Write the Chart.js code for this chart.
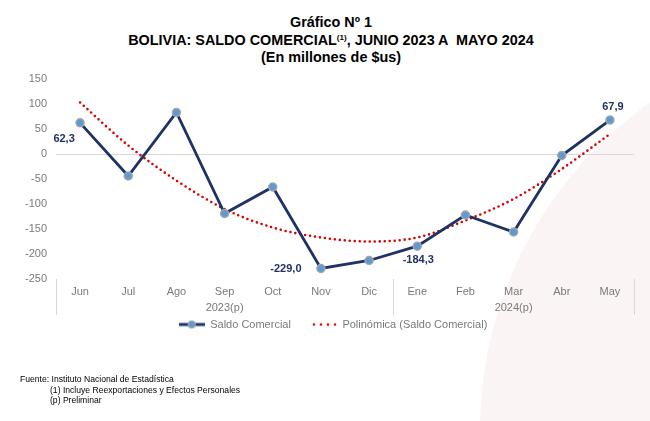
<!DOCTYPE html>
<html lang="es">
<head>
<meta charset="utf-8">
<title>Bolivia: Saldo Comercial</title>
<script src="https://cdn.jsdelivr.net/npm/chart.js@4.4.1/dist/chart.umd.min.js"></script>
<style>
    html, body { margin: 0; padding: 0; background: #fff; }
    body {
        width: 650px; height: 421px; position: relative; overflow: hidden;
        font-family: "Liberation Sans", Arial, sans-serif;
    }
    .fondo {
        position: absolute; left: 480px; top: 30px; width: 800px; height: 800px;
        border-radius: 50%; background: #faf5f4;
    }
    .titulo {
        position: absolute; left: 6px; top: 14px; width: 650px; text-align: center;
        font-weight: bold; font-size: 14.4px; line-height: 17.5px; color: #000; white-space: pre;
    }
    .titulo sup { font-size: 8px; line-height: 0; vertical-align: 5px; }
    #contenedor { position: absolute; left: 0; top: 0; width: 650px; height: 421px; }
    .notas {
        position: absolute; left: 20px; top: 374px; color: #000;
        font-family: "Liberation Sans Narrow", "Arial Narrow", "Liberation Sans", sans-serif;
        font-size: 8.6px; line-height: 10.5px;
    }
    .notas .sangria { padding-left: 30px; }
</style>
</head>
<body>
<div class="fondo"></div>
<div class="titulo">Gráfico Nº 1
BOLIVIA: SALDO COMERCIAL<sup>(1)</sup>, JUNIO 2023 A  MAYO 2024
(En millones de $us)</div>
<div id="contenedor"><canvas id="grafico"></canvas></div>
<div class="notas">
    <div>Fuente: Instituto Nacional de Estadística</div>
    <div class="sangria">(1) Incluye Reexportaciones y Efectos Personales</div>
    <div class="sangria">(p) Preliminar</div>
</div>
<script>
// Datos
const meses = ['Jun', 'Jul', 'Ago', 'Sep', 'Oct', 'Nov', 'Dic', 'Ene', 'Feb', 'Mar', 'Abr', 'May'];
const grupos = ['2023(p)', '2024(p)'];
const mesesPorGrupo = [7, 5];
const saldoComercial = [62.3, -44, 83, -119, -66, -229.0, -213, -184.3, -122, -156, -3, 67.9];
const tendencia = [103, 17, -53, -110, -147, -167, -175, -167, -133, -90, -30, 40];
const etiquetados = [0, 5, 7, 11];
const ejeY = [-250, 150, 50];

const GRIS = '#7a7a7a';
const AZUL = '#1f3264';
const ROJO = '#d90000';

Chart.defaults.font.family = '"Liberation Sans", Arial, sans-serif';
Chart.defaults.font.size = 11;

// Símbolos de la leyenda
function simboloLinea() {
    const c = document.createElement('canvas');
    c.width = 26; c.height = 10;
    const ctx = c.getContext('2d');
    ctx.strokeStyle = AZUL;
    ctx.lineWidth = 3;
    ctx.beginPath(); ctx.moveTo(0, 5); ctx.lineTo(26, 5); ctx.stroke();
    ctx.fillStyle = '#5b9bd5';
    ctx.strokeStyle = '#a5a5a5';
    ctx.lineWidth = 1.2;
    ctx.beginPath(); ctx.arc(13, 5, 3.5, 0, Math.PI * 2); ctx.fill(); ctx.stroke();
    return c;
}

function simboloPuntos() {
    const c = document.createElement('canvas');
    c.width = 26; c.height = 10;
    const ctx = c.getContext('2d');
    ctx.fillStyle = ROJO;
    [3, 10, 17, 24].forEach(x => {
        ctx.beginPath(); ctx.arc(x, 5, 1.3, 0, Math.PI * 2); ctx.fill();
    });
    return c;
}
const simbolos = [simboloLinea(), simboloPuntos()];

// Etiquetas de datos
const etiquetasDatos = {
    id: 'etiquetasDatos',
    afterDatasetsDraw(chart) {
        const ctx = chart.ctx;
        const puntos = chart.getDatasetMeta(0).data;
        const desplazamientos = { 0: [-16, 16], 5: [-35, 0], 7: [1, 14], 11: [3, -13] };
        ctx.save();
        ctx.font = 'bold 11px "Liberation Sans", Arial, sans-serif';
        ctx.fillStyle = AZUL;
        ctx.textAlign = 'center';
        ctx.textBaseline = 'middle';
        etiquetados.forEach(i => {
            const [dx, dy] = desplazamientos[i];
            const texto = saldoComercial[i].toFixed(1).replace('.', ',');
            ctx.fillText(texto, puntos[i].x + dx, puntos[i].y + dy);
        });
        ctx.restore();
    }
};

// Segundo nivel del eje X (años y separadores)
const gruposEje = {
    id: 'gruposEje',
    afterLayout(chart) {
        // la leyenda del original está algo corrida a la derecha
        chart.legend.left += 16;
        chart.legend.right += 16;
    },
    afterDraw(chart) {
        const x = chart.scales.x;
        const area = chart.chartArea;
        const ctx = chart.ctx;
        ctx.save();
        ctx.font = '11px "Liberation Sans", Arial, sans-serif';
        ctx.fillStyle = GRIS;
        ctx.textAlign = 'center';
        ctx.textBaseline = 'middle';
        const bordes = [area.left];
        let inicio = 0;
        mesesPorGrupo.forEach((n, g) => {
            const fin = inicio + n - 1;
            const centro = (x.getPixelForValue(inicio) + x.getPixelForValue(fin)) / 2;
            ctx.fillText(grupos[g], centro, area.bottom + 29);
            const borde = fin === meses.length - 1
                ? area.right
                : (x.getPixelForValue(fin) + x.getPixelForValue(fin + 1)) / 2;
            bordes.push(borde);
            inicio += n;
        });
        ctx.strokeStyle = '#d9d9d9';
        ctx.lineWidth = 1;
        bordes.forEach(b => {
            const px = Math.round(b) + 0.5;
            ctx.beginPath(); ctx.moveTo(px, area.bottom); ctx.lineTo(px, area.bottom + 36); ctx.stroke();
        });
        ctx.restore();
    }
};

const grafico = new Chart(document.getElementById('grafico'), {
    type: 'line',
    data: {
        labels: meses,
        datasets: [{
            label: 'Saldo Comercial',
            data: saldoComercial,
            borderColor: AZUL,
            borderWidth: 2.8,
            tension: 0,
            pointRadius: 4,
            pointBackgroundColor: '#5b9bd5',
            pointBorderColor: '#a5a5a5',
            pointBorderWidth: 1.5
        }, {
            label: 'Polinómica (Saldo Comercial)',
            data: tendencia,
            borderColor: ROJO,
            borderWidth: 2.6,
            borderDash: [0, 5],
            borderCapStyle: 'round',
            cubicInterpolationMode: 'monotone',
            pointRadius: 0
        }]
    },
    options: {
        responsive: true,
        maintainAspectRatio: false,
        animation: false,
        layout: { padding: { top: 79, right: 16, bottom: 81, left: 0 } },
        scales: {
            x: {
                offset: true,
                grid: { display: false, drawTicks: false, offset: true },
                border: { display: false },
                ticks: { color: GRIS, padding: 6, maxRotation: 0 },
                afterFit(scale) { scale.height = 20; }
            },
            y: {
                min: ejeY[0],
                max: ejeY[1],
                ticks: { stepSize: ejeY[2], color: GRIS, padding: 9 },
                grid: {
                    drawTicks: false,
                    color: c => c.tick.value === 0 ? '#d9d9d9' : 'transparent'
                },
                border: { display: false },
                afterFit(scale) { scale.width = 56; }
            }
        },
        plugins: {
            tooltip: { enabled: false },
            legend: {
                position: 'bottom',
                labels: {
                    usePointStyle: true,
                    pointStyleWidth: 26,
                    boxHeight: 10,
                    padding: 20,
                    color: GRIS,
                    generateLabels(chart) {
                        return chart.data.datasets.map((ds, i) => ({
                            text: ds.label,
                            pointStyle: simbolos[i],
                            fontColor: GRIS,
                            fillStyle: 'transparent',
                            strokeStyle: 'transparent',
                            lineWidth: 0,
                            hidden: false,
                            datasetIndex: i
                        }));
                    }
                }
            }
        }
    },
    plugins: [etiquetasDatos, gruposEje]
});
</script>
</body>
</html>
